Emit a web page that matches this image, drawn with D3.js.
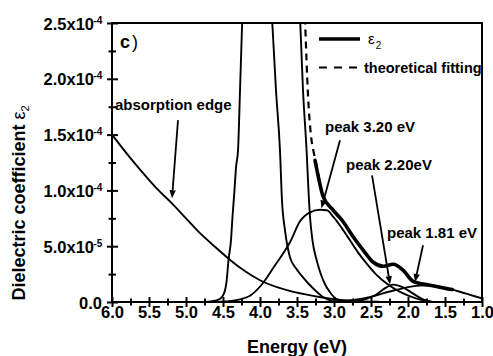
<!DOCTYPE html>
<html><head><meta charset="utf-8">
<script src="https://cdn.jsdelivr.net/npm/d3@7"></script>
<style>
html,body{margin:0;padding:0;background:#fff;}
svg{display:block;font-family:"Liberation Sans",Arial,sans-serif;}
</style></head>
<body><svg id="c" width="493" height="356"></svg>
<script>
// ---------- data (energy in eV, values in units of 1e-5) ----------
const xTicks = [6.0,5.5,5.0,4.5,4.0,3.5,3.0,2.5,2.0,1.5,1.0];
const xMinor = [5.75,5.25,4.75,4.25,3.75,3.25,2.75,2.25,1.75,1.25];
const yTicks = [0,5,10,15,20,25];
const yMinor = [2.5,7.5,12.5,17.5,22.5];
const yTickMantissa = ["0.0","5.0","1.0","1.5","2.0","2.5"];
const yTickExp = ["","-5","-4","-4","-4","-4"];

// absorption edge
const edgeE = [6.0,5.8,5.6,5.4,5.2,5.0,4.8,4.6,4.4,4.2,4.0,3.8,3.6,3.4,3.2,3.0,2.8,2.6,2.4];
const edgeV = [15.0,13.3,11.7,10.2,8.9,7.5,6.1,4.9,3.75,2.75,1.95,1.4,1.0,0.7,0.45,0.25,0.12,0.05,0.02];
// tall peak, left flank
const peakAE = [4.743,4.608,4.541,4.486,4.45,4.426,4.392,4.372,4.345,4.324,4.297,4.27,4.239];
const peakAV = [0.0,0.11,0.29,0.78,1.94,3.74,5.53,7.59,10.0,12.07,13.6,18.97,25.5];
// tall peak, right flank
const peakBE = [3.838,3.784,3.730,3.703,3.662,3.595,3.514,3.419,3.284,3.149,3.014];
const peakBV = [25.5,18.97,13.59,9.11,6.42,4.0,3.02,2.21,1.23,0.45,0.04];
// second tall component
const peakCE = [3.459,3.419,3.369,3.345,3.324,3.291,3.234,3.182,3.122,3.054,2.973,2.851];
const peakCV = [25.5,18.97,13.4,10.0,7.62,5.53,3.74,2.57,1.59,0.87,0.29,0.04];
// peak 3.20 eV
const p320E = [4.541,4.270,4.135,3.973,3.797,3.595,3.459,3.324,3.189,3.095,3.009,2.892,2.784,2.676,2.558,2.432,2.288,2.108,1.882,1.703];
const p320V = [0.02,0.24,0.56,1.59,3.29,5.35,7.23,8.04,8.26,8.22,7.62,6.60,5.53,4.45,3.44,2.48,1.65,0.90,0.30,0.04];
// peak 2.20 eV
const p220E = [2.703,2.554,2.432,2.324,2.199,2.068,1.930,1.797,1.676];
const p220V = [0.04,0.30,0.65,1.18,1.56,1.32,0.75,0.24,0.03];
// peak 1.81 eV
const p181E = [3.2,3.0,2.8,2.6,2.45,2.3,2.15,2.0,1.85,1.72,1.6,1.47,1.3,1.15,1.0];
const p181V = [0.0,0.05,0.15,0.33,0.55,0.85,1.1,1.33,1.47,1.5,1.42,1.22,0.92,0.62,0.32];
// experimental eps2
const eps2E = [3.257,3.216,3.145,3.009,2.874,2.739,2.604,2.469,2.334,2.199,2.064,1.930,1.703,1.477,1.40];
const eps2V = [12.7,11.35,9.41,8.22,7.17,5.82,4.63,3.56,3.20,3.38,2.84,1.85,1.50,1.20,1.12];
// theoretical fitting (visible part)
const fitE = [3.392,3.351,3.311,3.280,3.243,3.203];
const fitV = [25.5,18.5,14.9,13.6,12.5,11.1];

// annotations
const annLabels = ["absorption edge","peak 3.20 eV","peak 2.20eV","peak 1.81 eV"];
const annTextE = [5.96,3.122,2.838,2.284];
const annTextV = [17.2,15.2,11.8,5.7];
const annFromE = [5.108,2.919,2.486,1.797];
const annFromV = [16.3,14.5,11.35,5.08];
const annToE = [5.189,3.169,2.243,1.905];
const annToV = [9.3,8.4,1.6,1.8];

// ---------- layout ----------
const W=493,H=356;
const m={l:112,t:23,r:11,b:54};
const svg=d3.select("#c");
const x=d3.scaleLinear().domain([6.0,1.0]).range([m.l,W-m.r]);
const y=d3.scaleLinear().domain([0,25]).range([H-m.b,m.t]);

svg.append("defs").append("clipPath").attr("id","plot")
  .append("rect").attr("x",m.l).attr("y",m.t).attr("width",W-m.r-m.l).attr("height",H-m.b-m.t);

const line=d3.line().x(d=>x(d[0])).y(d=>y(d[1])).curve(d3.curveMonotoneX);
const zip=(a,b)=>a.map((v,i)=>[v,b[i]]);

const g=svg.append("g").attr("clip-path","url(#plot)");
[[edgeE,edgeV],[peakAE,peakAV],[peakBE,peakBV],[peakCE,peakCV],[p320E,p320V],[p220E,p220V],[p181E,p181V]]
 .forEach(([e,v])=>{
  g.append("path").attr("d",line(zip(e,v))).attr("fill","none").attr("stroke","#000").attr("stroke-width",1.9);
 });
g.append("path").attr("d",line(zip(fitE,fitV))).attr("fill","none").attr("stroke","#000")
 .attr("stroke-width",2.2).attr("stroke-dasharray","7,5");
g.append("path").attr("d",line(zip(eps2E,eps2V))).attr("fill","none").attr("stroke","#000")
 .attr("stroke-width",3.6).attr("stroke-linejoin","round").attr("stroke-linecap","round");

// frame
svg.append("rect").attr("x",m.l).attr("y",m.t).attr("width",W-m.r-m.l).attr("height",H-m.b-m.t)
 .attr("fill","none").attr("stroke","#000").attr("stroke-width",2);

// x axis
const xa=svg.append("g").attr("transform",`translate(0,${H-m.b})`)
 .call(d3.axisBottom(x).tickValues(xTicks).tickFormat(d3.format(".1f")).tickSize(5));
xa.select(".domain").remove();
xa.selectAll(".tick line").attr("y1",-5).attr("y2",5).attr("stroke-width",2);
xa.selectAll(".tick text").attr("y",15.5).attr("dy","0").attr("font-size",16.5).attr("font-weight","bold")
 .attr("font-family","Liberation Sans, Arial, sans-serif").attr("fill","#000");
const xm=svg.append("g").attr("transform",`translate(0,${H-m.b})`)
 .call(d3.axisBottom(x).tickValues(xMinor).tickFormat("").tickSize(3));
xm.select(".domain").remove();
xm.selectAll(".tick line").attr("y1",-3.5).attr("y2",3.5).attr("stroke-width",2);

// y axis
const ya=svg.append("g").attr("transform",`translate(${m.l},0)`)
 .call(d3.axisLeft(y).tickValues(yTicks).tickFormat("").tickSize(5));
ya.select(".domain").remove();
ya.selectAll(".tick line").attr("x1",-5).attr("x2",6).attr("stroke-width",2);
const ym=svg.append("g").attr("transform",`translate(${m.l},0)`)
 .call(d3.axisLeft(y).tickValues(yMinor).tickFormat("").tickSize(3));
ym.select(".domain").remove();
ym.selectAll(".tick line").attr("x1",-3.5).attr("x2",4).attr("stroke-width",2);

yTicks.forEach((v,i)=>{
  const t=svg.append("text").attr("y",y(v)+6.5).attr("font-size",16.5).attr("font-weight","bold")
    .attr("text-anchor","end");
  if(yTickExp[i]===""){
    t.attr("x",102).text(yTickMantissa[i]);
  } else {
    t.attr("x",94).text(yTickMantissa[i]+"x10");
    svg.append("text").attr("x",93.5).attr("y",y(v)+0.5).attr("font-size",10).attr("font-weight","bold")
      .text(yTickExp[i]);
  }
});

// axis titles
svg.append("text").attr("x",297).attr("y",353).attr("text-anchor","middle")
 .attr("font-size",18).attr("font-weight","bold").text("Energy (eV)");
const yt=svg.append("text").attr("transform","translate(25,203) rotate(-90)").attr("text-anchor","middle")
 .attr("font-size",18).attr("font-weight","bold");
yt.append("tspan").text("Dielectric coefficient ");
yt.append("tspan").attr("font-weight","normal").text("ε");
yt.append("tspan").attr("font-size",11).attr("font-weight","normal").attr("dy",4).text("2");

// panel label
svg.append("text").attr("x",120).attr("y",48).attr("font-size",18).attr("font-weight","bold").text("c");
svg.append("text").attr("x",132).attr("y",48).attr("font-size",18).text(")");

// legend
svg.append("line").attr("x1",319).attr("x2",360).attr("y1",39).attr("y2",39).attr("stroke","#000").attr("stroke-width",3.6);
const le=svg.append("text").attr("x",368).attr("y",44).attr("font-size",15);
le.append("tspan").text("ε");
le.append("tspan").attr("font-size",10).attr("dy",5).attr("dx",1).text("2");
svg.append("line").attr("x1",319).attr("x2",362).attr("y1",67.5).attr("y2",67.5).attr("stroke","#000")
 .attr("stroke-width",2.2).attr("stroke-dasharray","8,7");
svg.append("text").attr("x",364).attr("y",73).attr("font-size",14.5).attr("font-weight","bold").text("theoretical fitting");

// annotations
annLabels.forEach((s,i)=>{
  svg.append("text").attr("x",x(annTextE[i])).attr("y",y(annTextV[i])).attr("font-size",15)
   .attr("font-weight","bold").text(s);
  const x1=x(annFromE[i]),y1=y(annFromV[i]),x2=x(annToE[i]),y2=y(annToV[i]);
  const ang=Math.atan2(y2-y1,x2-x1), L=8, w=3.2;
  const bx=x2-L*Math.cos(ang), by=y2-L*Math.sin(ang);
  svg.append("line").attr("x1",x1).attr("y1",y1).attr("x2",bx).attr("y2",by)
   .attr("stroke","#000").attr("stroke-width",1.8);
  svg.append("path").attr("d",`M${x2},${y2}L${bx-w*Math.sin(ang)},${by+w*Math.cos(ang)}L${bx+w*Math.sin(ang)},${by-w*Math.cos(ang)}Z`)
   .attr("fill","#000");
});
</script></body></html>
